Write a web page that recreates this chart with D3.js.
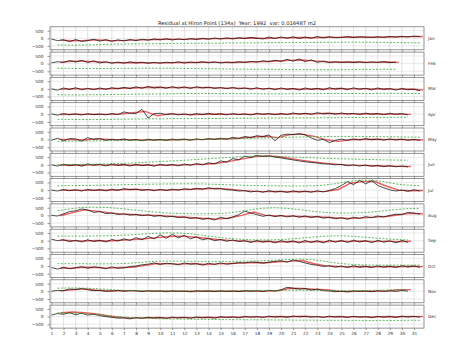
<!DOCTYPE html>
<html>
<head>
<meta charset="utf-8">
<script src="https://cdn.jsdelivr.net/npm/d3@7"></script>
<style>
  body { margin: 0; background: #fff; }
  svg { display: block; font-family: "DejaVu Sans", sans-serif; }
</style>
</head>
<body>
<svg id="chart"></svg>
<script>
const months = ["Jan", "Feb", "Mar", "Apr", "May", "Jun", "Jul", "Aug", "Sep", "Oct", "Nov", "Dec"];
const monthDays = [31, 29, 31, 30, 31, 30, 31, 31, 30, 31, 30, 31];
const dayTicks = [1, 2, 3, 4, 5, 6, 7, 8, 9, 10, 11, 12, 13, 14, 15, 16, 17, 18, 19, 20, 21, 22, 23, 24, 25, 26, 27, 28, 29, 30, 31];
const yTicks = [500, 0, -500];

// residual, two readings per day (00h, 12h)
const blackSeries = [
  [-50,-150, -100,-220, -80,-200, -150,-60, -180,-90, -200,-100, -170,-80, -150,-60, -120,-40, -100,-30, -110,-40, -90,-20, -80,0, -60,20, -50,30, -40,40, -20,60, 0,-40, 80,-20, 90,0, 100,-10, 80,0, 120,20, 100,30, 60,110, 50,100, 80,60, 100,60, 120,80, 130,90, 140,110],
  [50,120, 80,200, 100,220, 60,180, 40,120, 20,100, 30,110, 40,90, 20,80, 30,90, 50,110, 40,100, 60,120, 50,110, 40,100, 60,120, 80,140, 100,180, 120,220, 140,280, 160,300, 120,240, 80,160, 60,120, 80,110, 70,120, 60,110, 80,130, 60,100],
  [0,-80, 60,-40, 80,-60, 40,-50, 60,-30, 80,0, 100,20, 140,40, 160,60, 120,40, 150,50, 130,30, 140,60, 110,30, 90,10, 100,0, 60,-20, 80,-30, 50,-50, 60,-40, 30,-70, 60,-40, 40,-60, 80,-20, 50,-50, 70,-30, 40,-60, 60,-40, 20,-80, 40,-60, -20,-120],
  [20,-60, 40,-40, 20,-50, 30,-30, 10,-40, 40,-20, 150,60, 40,320, -250,40, 60,-20, 30,-40, 20,-60, 40,-30, 50,-20, 30,-40, 40,-30, 20,-50, 60,-10, 40,-30, 50,-20, 80,0, 60,-10, 100,20, 60,0, 80,10, 50,-20, 70,0, 40,-30, 60,-10, 30,-40],
  [-50,80, -80,60, 40,-100, 120,0, 60,-60, 20,-40, 40,-60, 0,-80, 20,-50, 0,-60, 30,-30, 20,-50, 40,-20, 60,0, 80,20, 140,60, 200,120, 250,180, 300,-80, 280,350, 320,380, 300,100, -50,0, -200,-60, 20,-50, 40,-30, 60,-20, 30,-40, 40,-30, 20,-50, 10,-60],
  [0,-80, 40,-60, 20,-90, 60,-40, 30,-70, 50,-50, 20,-80, 40,-60, 10,-90, 40,-50, 20,-70, 50,-30, 80,0, 130,60, 250,180, 400,330, 560,480, 620,540, 580,500, 450,380, 320,250, 200,150, 120,60, 50,0, 20,-60, 0,-80, -20,-100, -40,-120, -60,-130, -80,-140],
  [0,-60, 40,-40, 20,-60, 50,-30, 30,-50, 60,-20, 100,20, 60,-20, 40,-40, 50,-30, 60,0, 90,30, 120,60, 150,80, 100,20, 0,-60, -40,-120, -60,-140, -40,-120, -80,-150, -50,-130, -70,-140, -40,-120, -20,100, 300,550, 350,640, 400,620, 300,150, 20,-60, 0,-80, 20,-60],
  [0,-40, 100,250, 300,420, 350,200, 250,120, 150,60, 100,20, 60,-20, 40,-60, 0,-100, -60,-140, -100,-200, -150,-260, -180,-300, -120,-220, -100,50, 280,150, 50,-60, 20,-80, 0,-100, -20,-120, -40,-140, -60,-180, -120,-220, -150,-250, -120,-200, -80,-150, -40,-100, 0,80, 60,200, 150,80],
  [100,0, 60,-60, 30,-80, 60,-50, 20,-80, 80,-20, 120,20, 200,60, 280,120, 380,150, 420,180, 350,120, 250,60, 150,0, 80,-40, 50,-60, 0,-120, 20,-100, -20,-140, 10,-110, -10,-150, 20,-120, 0,-140, 40,-100, 20,-120, 40,-90, 0,-130, 30,-100, -10,-140, 20,-110],
  [-100,-200, -80,-180, -120,-40, -150,-60, -100,-180, -60,-150, -120,-40, 0,80, 120,200, 100,180, 150,80, 200,120, 150,60, 180,100, 200,120, 160,220, 200,260, 240,180, 250,300, 350,250, 400,300, 200,100, 50,-30, 20,-80, 0,-100, 20,-80, -20,-100, 10,-80, -10,-100, 20,-70, 0,-90],
  [0,60, 40,150, 120,180, 100,40, 60,0, 20,60, 0,50, 30,-20, 40,0, 20,-30, 30,0, 10,-30, 40,0, 20,-20, 30,-10, 20,-20, 40,0, 30,-10, 60,20, 100,260, 200,150, 180,80, 150,40, 20,-30, 10,-40, 30,-10, 20,-30, 40,0, 30,-10, 50,10],
  [100,200, 150,250, 120,220, 100,160, 60,0, -50,-100, -80,-150, -60,-120, -40,-100, -60,-120, -30,-90, -50,-110, -20,-80, -40,-100, 0,-60, -20,-80, 20,-40, 0,-60, 30,-30, 10,-50, 40,-20, 20,-40, 0,-60, 30,-30, 0,-60, 20,-40, -10,-70, 20,-40, 0,-60, 30,-30, 10,-40]
];

// second residual trace, one reading per day (18h)
const redSeries = [
  [-120,-160,-140,-100,-140,-150,-120,-100,-80,-60,-70,-50,-30,-20,-10,0,20,-10,30,40,50,40,70,60,80,70,70,80,100,110,120],
  [80,150,160,120,80,60,70,60,50,60,80,70,90,80,70,90,110,140,170,210,230,180,120,90,100,90,80,100,80],
  [-30,10,0,-10,10,40,60,90,110,80,100,80,100,70,50,50,20,20,0,10,-20,10,-10,30,0,20,-10,10,-30,-10,-70],
  [-20,0,-10,0,-10,10,100,180,-100,20,-10,-20,0,10,-10,0,-10,20,0,10,40,20,60,30,40,10,30,0,20,-10],
  [0,-10,-30,60,0,-10,-10,-40,-10,-30,0,-10,10,30,50,100,160,210,120,320,350,200,-20,-120,-20,0,20,-10,0,-20,-30],
  [-30,-10,-30,10,-20,0,-30,-10,-40,-10,-20,10,40,100,220,370,520,580,540,420,290,180,90,30,-20,-40,-60,-80,-100,-110],
  [-20,0,-20,10,-10,20,60,20,0,10,30,60,90,110,60,-20,-80,-100,-80,-110,-90,-100,-80,40,450,550,560,250,0,-40,-30],
  [-20,180,360,280,180,100,60,20,-10,-50,-100,-150,-200,-240,-170,0,220,0,-30,-50,-70,-90,-120,-170,-200,-160,-110,-70,40,130,110],
  [50,0,-20,10,-20,30,70,130,200,270,300,240,160,80,20,-10,-60,-40,-80,-50,-80,-50,-70,-30,-50,-20,-60,-30,-70,-40],
  [-150,-130,-80,-100,-140,-100,-80,40,160,140,120,160,100,140,160,190,230,210,280,300,360,150,10,-30,-50,-30,-60,-30,-50,-20,-40],
  [30,100,160,70,20,40,30,10,20,0,10,-10,20,0,10,0,20,10,40,200,180,130,100,0,-10,10,0,20,100,110],
  [250,300,250,180,40,-60,-100,-80,-60,-80,-50,-70,-40,-60,-20,-40,0,-20,10,-10,20,0,-20,10,-20,0,-30,10,-10,10,0]
];

// dashed green, daily value (12h)
const greenSeries = [
  [-430,-450,-440,-420,-400,-380,-370,-360,-350,-340,-330,-330,-320,-320,-310,-300,-300,-290,-280,-280,-270,-270,-260,-260,-250,-250,-260,-270,-280,-290,-300],
  [-300,-310,-320,-320,-320,-310,-310,-300,-300,-300,-310,-320,-330,-340,-350,-360,-370,-370,-380,-390,-390,-400,-400,-400,-390,-380,-380,-370,-370],
  [-380,-390,-390,-380,-370,-360,-350,-340,-330,-320,-310,-300,-300,-300,-300,-310,-310,-320,-320,-320,-310,-310,-300,-300,-300,-300,-300,-290,-290,-300,-300],
  [-330,-340,-350,-350,-340,-330,-320,-310,-300,-300,-290,-290,-280,-280,-270,-270,-260,-260,-250,-250,-240,-240,-230,-230,-220,-220,-210,-210,-200,-200],
  [-120,-110,-100,-90,-80,-70,-60,-50,-40,-30,-20,-10,0,20,40,60,80,100,120,140,160,180,190,200,200,200,190,180,170,160,150],
  [0,10,20,40,60,80,110,150,190,230,270,320,370,420,470,520,560,570,550,520,490,460,430,400,380,360,340,320,310,300],
  [280,290,300,310,320,340,360,380,390,400,410,410,400,380,350,320,300,290,280,270,270,280,320,420,560,640,650,550,400,320,290],
  [300,420,520,540,520,460,380,300,220,160,130,110,100,110,150,250,380,470,500,460,380,280,200,160,150,170,220,300,380,440,460],
  [300,300,300,310,320,340,380,430,480,510,500,450,350,250,160,100,60,50,60,100,160,230,290,320,310,260,190,130,80,50],
  [150,150,150,140,140,150,180,240,300,320,320,310,300,300,300,310,320,340,380,420,450,420,320,200,120,80,60,60,60,60,60],
  [200,220,210,180,130,80,50,40,30,30,30,30,30,30,30,40,40,50,60,70,70,60,50,40,40,50,60,80,100,110],
  [250,230,200,150,80,0,-60,-100,-130,-150,-160,-170,-180,-190,-200,-200,-210,-210,-220,-220,-230,-230,-240,-240,-240,-250,-250,-250,-250,-240,-240]
];

const width = 474, height = 352;
const plotLeft = 50, plotRight = 424;
const firstTop = 26.8, panelStep = 25.3, panelH = 23;

const svg = d3.select("#chart").attr("width", width).attr("height", height);

const x = d3.scaleLinear().domain([0.88, 31.83]).range([plotLeft, plotRight]);
const y = d3.scaleLinear().domain([-750, 750]).range([panelH, 0]);

svg.append("text")
  .attr("x", 237).attr("y", 24.5)
  .attr("text-anchor", "middle")
  .attr("font-size", 5.2)
  .attr("fill", "#222")
  .style("white-space", "pre")
  .text("Residual at Hiron Point (134a)  Year: 1992  var: 0.016487 m2");

const line = d3.line().x(d => x(d[0])).y(d => y(d[1]));

months.forEach((m, i) => {
  const g = svg.append("g").attr("transform", `translate(0,${firstTop + i * panelStep})`);

  g.append("clipPath").attr("id", "clip" + i)
    .append("rect").attr("x", plotLeft).attr("y", 0)
    .attr("width", plotRight - plotLeft).attr("height", panelH);

  // grid
  g.append("g").selectAll("line").data(dayTicks).join("line")
    .attr("x1", d => x(d)).attr("x2", d => x(d))
    .attr("y1", 0).attr("y2", panelH)
    .attr("stroke", "#cfcfcf").attr("stroke-width", 0.6);
  g.append("g").selectAll("line").data(yTicks).join("line")
    .attr("x1", plotLeft).attr("x2", plotRight)
    .attr("y1", d => y(d)).attr("y2", d => y(d))
    .attr("stroke", "#dcdcdc").attr("stroke-width", 0.6);

  // axes
  const xa = g.append("g").attr("transform", `translate(0,${panelH})`)
    .call(d3.axisBottom(x).tickValues(dayTicks).tickSize(2).tickPadding(1.5)
      .tickFormat(i === months.length - 1 ? d3.format("d") : () => ""));
  const ya = g.append("g").attr("transform", `translate(${plotLeft},0)`)
    .call(d3.axisLeft(y).tickValues(yTicks).tickSize(2.5).tickPadding(4));
  [xa, ya].forEach(a => {
    a.select(".domain").remove();
    a.selectAll(".tick line").attr("stroke", "#555").attr("stroke-width", 0.6);
    a.selectAll(".tick text").attr("font-size", 4.3).attr("fill", "#333")
      .attr("font-family", "DejaVu Sans, sans-serif");
  });

  const plot = g.append("g").attr("clip-path", `url(#clip${i})`);

  const redPts = redSeries[i].map((v, k) => [k + 1.75, v]);
  const blackPts = blackSeries[i].map((v, k) => [1 + k * 0.5, v]);
  const greenPts = greenSeries[i].map((v, k) => [k + 1.5, v]);

  plot.append("path").datum(redPts).attr("d", line)
    .attr("fill", "none").attr("stroke", "#e02020").attr("stroke-opacity", 0.7).attr("stroke-width", 1.4);
  plot.append("path").datum(blackPts).attr("d", line)
    .attr("fill", "none").attr("stroke", "#111").attr("stroke-width", 0.75);
  plot.append("path").datum(greenPts).attr("d", line)
    .attr("fill", "none").attr("stroke", "#2ca02c").attr("stroke-width", 0.75)
    .attr("stroke-dasharray", "2,1.5");

  // frame
  g.append("rect").attr("x", plotLeft).attr("y", 0)
    .attr("width", plotRight - plotLeft).attr("height", panelH)
    .attr("fill", "none").attr("stroke", "#666").attr("stroke-width", 0.7);

  g.append("text")
    .attr("x", 428).attr("y", panelH / 2)
    .attr("dy", "0.35em")
    .attr("font-size", 4.3).attr("fill", "#333")
    .text(m);
});
</script>
</body>
</html>
